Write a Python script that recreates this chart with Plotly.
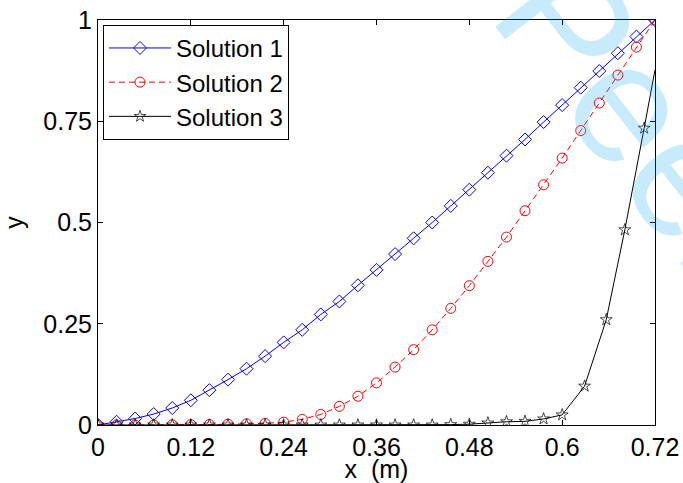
import plotly.graph_objects as go

x12 = [round(0.024 * i, 3) for i in range(31)]

sol1 = [0, 0.008, 0.016, 0.027, 0.042, 0.061, 0.086, 0.112, 0.139, 0.170,
        0.204, 0.235, 0.273, 0.305, 0.345, 0.383, 0.422, 0.461, 0.500, 0.541,
        0.581, 0.623, 0.665, 0.705, 0.748, 0.790, 0.833, 0.874, 0.918, 0.959, 1.0]

sol2 = [0, 0, 0, 0, 0.0005, 0.001, 0.001, 0.002, 0.003, 0.004,
        0.007, 0.014, 0.026, 0.046, 0.071, 0.104, 0.143, 0.186, 0.235, 0.288,
        0.344, 0.404, 0.464, 0.529, 0.593, 0.659, 0.727, 0.795, 0.864, 0.933, 1.0]

x3 = [round(0.024 * i, 3) for i in range(26)] + [0.629, 0.657, 0.681, 0.706, 0.72]
sol3 = [0] * 19 + [0.001, 0.002, 0.005, 0.008, 0.009, 0.015, 0.025,
                   0.096, 0.260, 0.482, 0.733, 0.877]
sol3_marker = [9] * 30 + [0]

xticks = [0, 0.12, 0.24, 0.36, 0.48, 0.6, 0.72]
xticklabels = ["0", "0.12", "0.24", "0.36", "0.48", "0.6", "0.72"]
yticks = [0, 0.25, 0.5, 0.75, 1]
yticklabels = ["0", "0.25", "0.5", "0.75", "1"]

FONT = "Liberation Sans, Arial"
FS = 25

fig = go.Figure()
fig.add_trace(go.Scatter(x=x12, y=sol1, name="Solution 1", mode="lines+markers",
                         line=dict(color="#0000ff", width=1),
                         marker=dict(symbol="diamond-open", size=10, color="#0000ff", line=dict(width=1))))
fig.add_trace(go.Scatter(x=x12, y=sol2, name="Solution 2", mode="lines+markers",
                         line=dict(color="#ff0000", width=1, dash="6px,4px"),
                         marker=dict(symbol="circle-open", size=10, color="#ff0000", line=dict(width=1))))
fig.add_trace(go.Scatter(x=x3, y=sol3, name="Solution 3", mode="lines+markers",
                         line=dict(color="#000000", width=1),
                         marker=dict(symbol="star-open", size=sol3_marker, color="#000000", line=dict(width=1))))

fig.add_annotation(text="Peer", xref="paper", yref="paper", x=0.98, y=0.75,
                   xanchor="center", yanchor="middle", showarrow=False, textangle=52,
                   font=dict(size=170, color="rgba(0,165,235,0.22)", family=FONT))

axis_common = dict(showline=True, linecolor="black", linewidth=1, mirror="ticks",
                   ticks="inside", ticklen=5, tickcolor="black", showgrid=False, zeroline=False,
                   automargin=False,
                   tickfont=dict(size=FS, color="black", family=FONT))

fig.update_xaxes(range=[0, 0.72], tickvals=xticks, ticktext=xticklabels,
                 title=dict(text="x  (m)", font=dict(size=FS, color="black", family=FONT), standoff=0),
                 **axis_common)
fig.update_yaxes(range=[0, 1], tickvals=yticks, ticktext=yticklabels,
                 title=dict(text="y", font=dict(size=FS, color="black", family=FONT), standoff=22),
                 **axis_common)

fig.update_layout(
    width=683, height=483,
    margin=dict(l=98, r=28, t=20, b=58),
    plot_bgcolor="white", paper_bgcolor="white",
    font=dict(family=FONT, color="black"),
    legend=dict(x=0.009, y=0.988, xanchor="left", yanchor="top",
                bgcolor="white", bordercolor="black", borderwidth=1,
                itemwidth=62,
                font=dict(size=24, color="black"), tracegroupgap=0),
    showlegend=True,
)

fig.write_html("out.html")
